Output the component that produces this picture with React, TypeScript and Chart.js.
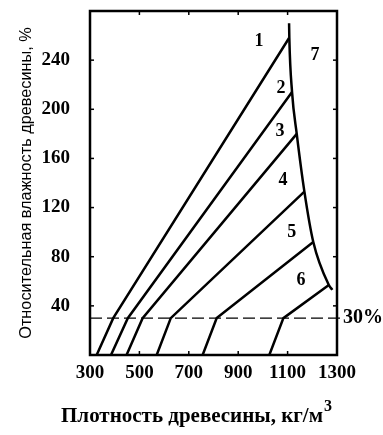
import { useEffect, useRef } from "react";
import { Chart, registerables } from "chart.js";

Chart.register(...registerables);

// Axis ticks
const xTicks = [300, 500, 700, 900, 1100, 1300];
const yTicks = [40, 80, 120, 160, 200, 240];

// Curves 1–6: point at bottom (0 %), at 30 %, and junction with curve 7
const line1 = [{ x: 327, y: 0 }, { x: 394, y: 30 }, { x: 1106, y: 258 }];
const line2 = [{ x: 385, y: 0 }, { x: 453, y: 30 }, { x: 1118, y: 214 }];
const line3 = [{ x: 448, y: 0 }, { x: 513, y: 30 }, { x: 1137, y: 180 }];
const line4 = [{ x: 570, y: 0 }, { x: 627, y: 30 }, { x: 1168, y: 133 }];
const line5 = [{ x: 756, y: 0 }, { x: 813, y: 30 }, { x: 1204, y: 92 }];
const line6 = [{ x: 1026, y: 0 }, { x: 1083, y: 30 }, { x: 1267, y: 57 }];
// Curve 7 (maximum moisture)
const line7 = [
  { x: 1106, y: 270 },
  { x: 1107, y: 258 },
  { x: 1118, y: 214 },
  { x: 1137, y: 180 },
  { x: 1168, y: 133 },
  { x: 1204, y: 92 },
  { x: 1267, y: 57 },
  { x: 1281, y: 53 },
];
// Fibre saturation level line (30 %)
const satLine = [{ x: 300, y: 30 }, { x: 1320, y: 30 }];

// Curve number labels
const curveLabels = ["1", "2", "3", "4", "5", "6", "7"];
const labelX = [984, 1073, 1069, 1081, 1117, 1154, 1211];
const labelY = [255, 217, 182, 142, 100, 61, 244];
const satLabel = "30%";
const satLabelX = 1324;
const satLabelY = 30;

const xTitle = "Плотность древесины, кг/м";
const xTitleSup = "3";
const yTitle = "Относительная влажность древесины, %";

const SERIF = '"Liberation Serif", "DejaVu Serif", serif';
const SANS = '"Liberation Sans", Arial, sans-serif';

const overlay = {
  id: "overlay",
  afterDatasetsDraw(chart: any) {
    const { ctx, chartArea: a, scales } = chart;
    const xs = scales.x;
    const ys = scales.y;
    ctx.save();
    ctx.strokeStyle = "#000";
    ctx.fillStyle = "#000";
    ctx.lineWidth = 2.5;
    ctx.strokeRect(a.left, a.top, a.right - a.left, a.bottom - a.top);
    ctx.lineWidth = 1.5;
    const seg = (x1: number, y1: number, x2: number, y2: number) => {
      ctx.beginPath();
      ctx.moveTo(x1, y1);
      ctx.lineTo(x2, y2);
      ctx.stroke();
    };
    xTicks.forEach((v) => {
      const px = xs.getPixelForValue(v);
      seg(px, a.top, px, a.top + 4);
      seg(px, a.bottom, px, a.bottom - 4);
    });
    yTicks.forEach((v) => {
      const py = ys.getPixelForValue(v);
      seg(a.left, py, a.left + 4, py);
      seg(a.right, py, a.right - 4, py);
    });
    ctx.font = `bold 18px ${SERIF}`;
    ctx.textAlign = "center";
    ctx.textBaseline = "middle";
    curveLabels.forEach((t, i) => {
      ctx.fillText(t, xs.getPixelForValue(labelX[i]), ys.getPixelForValue(labelY[i]));
    });
    ctx.font = `bold 20px ${SERIF}`;
    ctx.textAlign = "left";
    ctx.fillText(satLabel, xs.getPixelForValue(satLabelX), ys.getPixelForValue(satLabelY));
    // x-axis title with superscript
    ctx.textBaseline = "alphabetic";
    ctx.font = `bold 21px ${SERIF}`;
    const w = ctx.measureText(xTitle).width;
    ctx.font = `bold 16px ${SERIF}`;
    const ws = ctx.measureText(xTitleSup).width;
    const cx = 196;
    const start = cx - (w + ws) / 2;
    ctx.font = `bold 21px ${SERIF}`;
    ctx.fillText(xTitle, start, 422);
    ctx.font = `bold 16px ${SERIF}`;
    ctx.fillText(xTitleSup, start + w + 1, 411);
    ctx.restore();
  },
};

export default function App() {
  const ref = useRef<HTMLCanvasElement | null>(null);
  useEffect(() => {
    if (!ref.current) return;
    const lineDs = (data: any[], extra: any = {}) => ({
      data,
      borderColor: "#000",
      borderWidth: 2.5,
      pointRadius: 0,
      fill: false,
      tension: 0,
      ...extra,
    });
    const tickFont = { family: SERIF, size: 19, weight: "bold" as const };
    const chart = new Chart(ref.current, {
      type: "line",
      data: {
        datasets: [
          lineDs(line1),
          lineDs(line2),
          lineDs(line3),
          lineDs(line4),
          lineDs(line5),
          lineDs(line6),
          lineDs(line7, { cubicInterpolationMode: "monotone" }),
          lineDs(satLine, { borderWidth: 1.3, borderDash: [12, 5], clip: false }),
        ],
      },
      options: {
        animation: false,
        responsive: false,
        maintainAspectRatio: false,
        layout: { padding: { top: 11, right: 46, left: 0, bottom: 0 } },
        plugins: { legend: { display: false }, tooltip: { enabled: false } },
        scales: {
          x: {
            type: "linear",
            min: 300,
            max: 1300,
            afterBuildTicks: (s: any) => {
              s.ticks = xTicks.map((v) => ({ value: v }));
            },
            afterFit: (s: any) => {
              s.height = 80;
              s.paddingLeft = 0;
              s.paddingRight = 0;
            },
            ticks: {
              font: tickFont,
              color: "#000",
              padding: 7,
              maxRotation: 0,
              autoSkip: false,
              callback: (v: any) => String(v),
            },
            grid: { display: false, drawTicks: false },
            border: { display: false },
          },
          y: {
            type: "linear",
            min: 0,
            max: 280,
            afterBuildTicks: (s: any) => {
              s.ticks = yTicks.map((v) => ({ value: v }));
            },
            afterFit: (s: any) => {
              s.width = 90;
              s.paddingTop = 0;
              s.paddingBottom = 0;
            },
            ticks: {
              font: tickFont,
              color: "#000",
              padding: 20,
              autoSkip: false,
              callback: (v: any) => String(v),
            },
            grid: { display: false, drawTicks: false },
            border: { display: false },
            title: {
              display: true,
              text: yTitle,
              color: "#000",
              font: { family: SANS, size: 16.3, weight: "normal" as const },
              padding: { top: 17, bottom: 0 },
            },
          },
        },
      },
      plugins: [overlay],
    });
    return () => chart.destroy();
  }, []);
  return (
    <div style={{ position: "fixed", left: 0, top: 0, width: 383, height: 435, background: "#fff" }}>
      <canvas ref={ref} width={383} height={435} style={{ display: "block" }} />
    </div>
  );
}
